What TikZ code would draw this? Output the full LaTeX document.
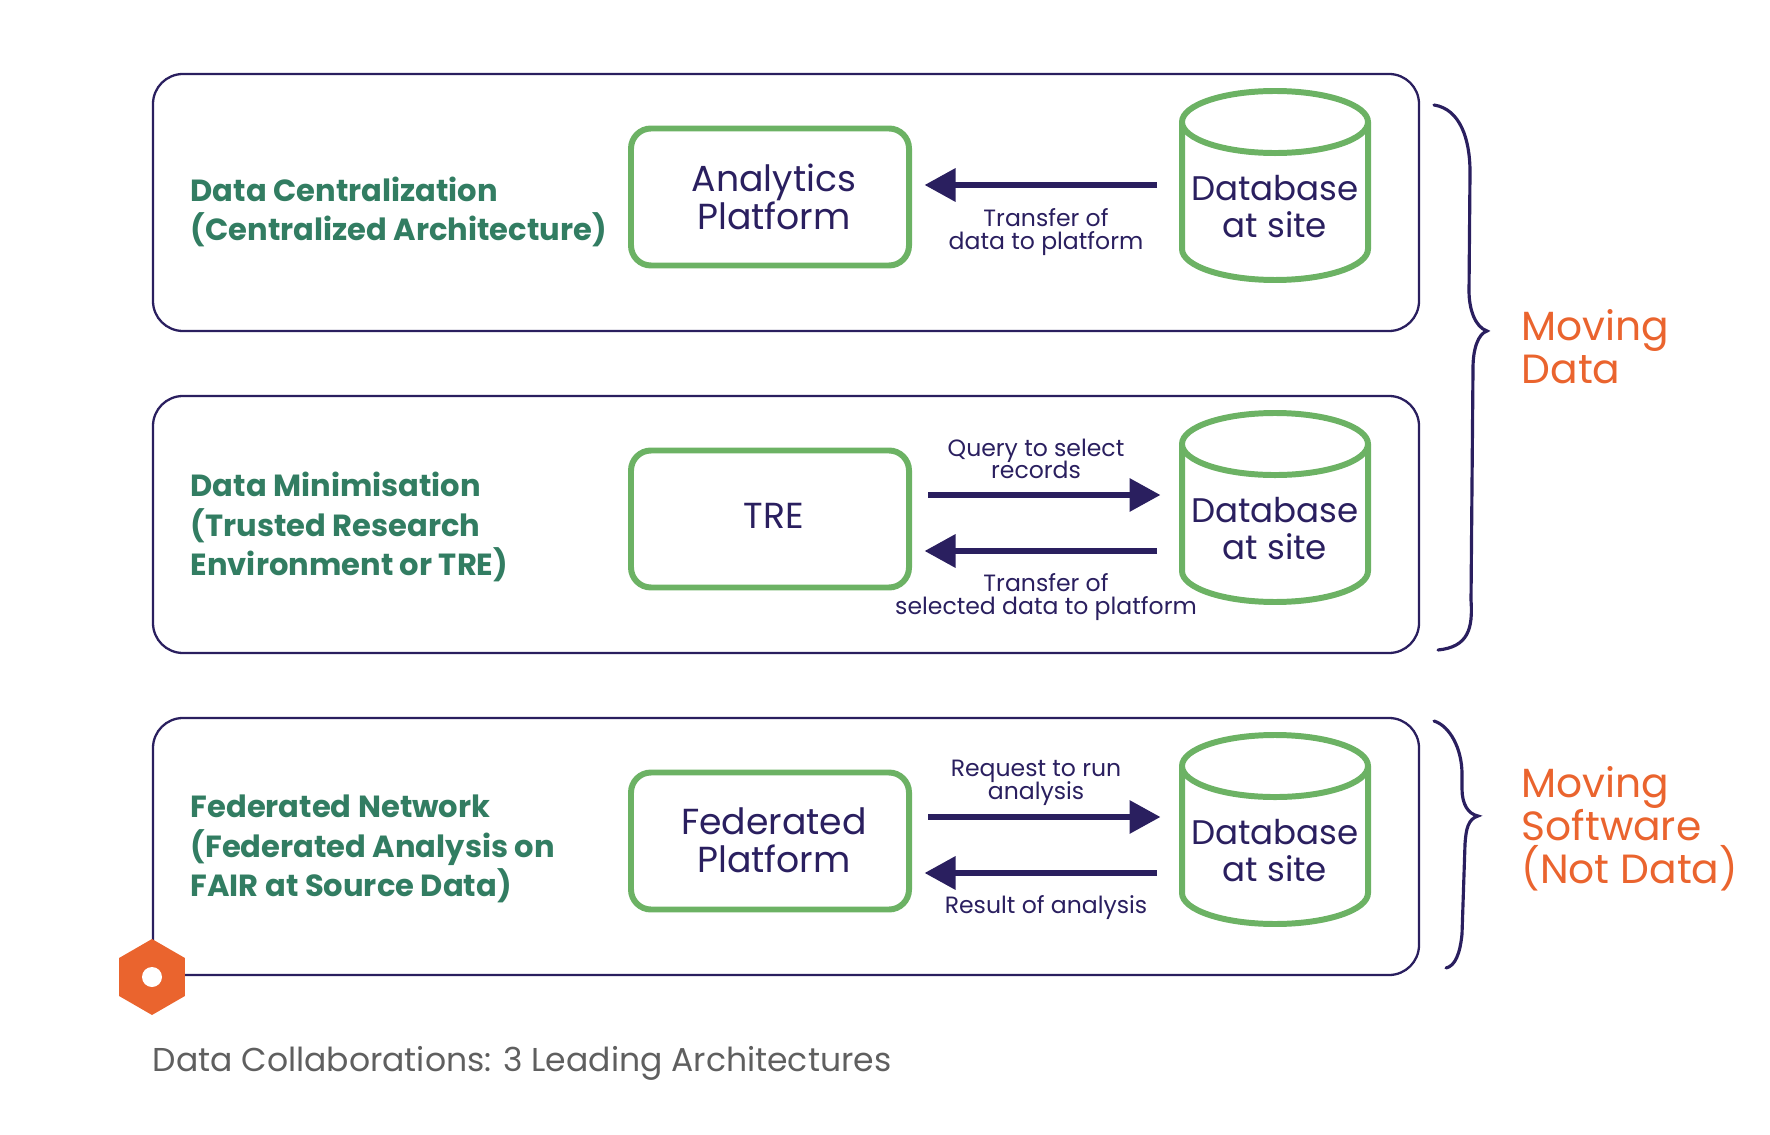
\documentclass[tikz,border=0pt]{standalone}
\usepackage{fontspec}
\setmainfont{Poppins}
\usepackage{tikz}
\usetikzlibrary{arrows.meta,shapes.geometric}

\definecolor{navy}{HTML}{2A1F5F}
\definecolor{leaf}{HTML}{6CB264}
\definecolor{pine}{HTML}{327D62}
\definecolor{rust}{HTML}{EA642E}
\definecolor{slate}{HTML}{5F5F5F}

\lineskiplimit=-10pt
% the cylinder shape sizes its ends from the box inside it
\newcommand{\storebox}{\phantom{Database}\\\phantom{at site}}

\tikzset{
  panel/.style={draw=navy, line width=0.65pt, rounded corners=0.3cm, minimum width=12.66cm, minimum height=2.57cm, inner sep=0},
  platform/.style={draw=leaf, line width=1.7pt, rounded corners=0.2cm, minimum width=2.78cm, minimum height=1.37cm, inner sep=0},
  platlabel/.style={align=center, text=navy, inner sep=0, font=\fontsize{10.3}{10.7}\selectfont},
  store/.style={cylinder, shape border rotate=90, shape aspect=0.37, draw=leaf, line width=1.7pt, minimum width=1.86cm, minimum height=1.89cm, inner sep=0, align=center, font=\fontsize{9.7}{10.7}\selectfont},
  storelabel/.style={align=center, text=navy, inner sep=0, font=\fontsize{9.7}{10.7}\selectfont},
  heading/.style={anchor=west, align=left, text=pine, inner sep=0, font=\fontsize{8.7}{11.2}\selectfont\bfseries},
  note/.style={align=center, text=navy, inner sep=0, font=\fontsize{6.7}{6.4}\selectfont},
  side/.style={anchor=west, align=left, text=rust, inner sep=0, font=\fontsize{11.6}{12.3}\selectfont},
  flow/.style={draw=navy, line width=1.8pt, -{Triangle[length=0.31cm,width=0.32cm]}},
  flowback/.style={flow, shorten <=0.22cm, shorten >=0.125cm},
  flowfore/.style={flow, shorten <=0.16cm, shorten >=0.185cm},
  brace/.style={draw=navy, line width=0.9pt, line cap=round}
}

\begin{document}
\begin{tikzpicture}
\useasboundingbox (0,0) rectangle (17.7,11.34);
\node[panel] (panelA) at (7.86,9.315) {};
\node[panel] (panelB) at (7.86,6.095) {};
\node[panel] (panelC) at (7.86,2.875) {};
\node[heading] (headA) at (1.9,9.22) {Data Centralization\\(Centralized Architecture)};
\node[heading] (headB) at (1.9,6.07) {Data Minimisation\\(Trusted Research\\Environment or TRE)};
\node[heading] (headC) at (1.9,2.85) {Federated Network\\(Federated Analysis on\\FAIR at Source Data)};
\node[platform] (platA) at (7.70,9.37) {};
\node[platform] (platB) at (7.70,6.15) {};
\node[platform] (platC) at (7.70,2.93) {};
\node[platlabel] (platAtext) at (7.74,9.37) {Analytics\\Platform};
\node[platlabel] (platBtext) at (7.74,6.18) {TRE};
\node[platlabel] (platCtext) at (7.74,2.94) {Federated\\Platform};
\node[store] (dbA) at (12.75,9.315) {\storebox};
\node[store] (dbB) at (12.75,6.095) {\storebox};
\node[store] (dbC) at (12.75,2.875) {\storebox};
\node[storelabel] (dbAtext) at (12.75,9.275) {Database\\at site};
\node[storelabel] (dbBtext) at (12.75,6.055) {Database\\at site};
\node[storelabel] (dbCtext) at (12.75,2.835) {Database\\at site};
% arrows between the boxes
\coordinate (rowA) at (0,9.49);
\coordinate (rowB) at (0,6.39);
\coordinate (rowC) at (0,5.83);
\coordinate (rowD) at (0,3.17);
\coordinate (rowE) at (0,2.61);
\draw[flowback] (dbA.west |- rowA) -- (platA.east |- rowA);
\draw[flowfore] (platB.east |- rowB) -- (dbB.west |- rowB);
\draw[flowback] (dbB.west |- rowC) -- (platB.east |- rowC);
\draw[flowfore] (platC.east |- rowD) -- (dbC.west |- rowD);
\draw[flowback] (dbC.west |- rowE) -- (platC.east |- rowE);
\node[note] (noteA) at (10.46,9.02) {Transfer of\\data to platform};
\node[note] (noteB) at (10.36,6.75) {Query to select\\records};
\node[note] (noteC) at (10.46,5.37) {Transfer of\\selected data to platform};
\node[note] (noteD) at (10.36,3.51) {Request to run\\analysis};
\node[note] (noteE) at (10.46,2.26) {Result of analysis};
% braces on the right
\draw[brace] (14.34,10.29) .. controls (14.60,10.25) and (14.70,9.95) .. (14.70,9.62) -- (14.69,8.43) .. controls (14.69,8.25) and (14.75,8.07) .. (14.87,8.03) .. controls (14.78,8.00) and (14.73,7.85) .. (14.73,7.66) -- (14.71,5.34) .. controls (14.73,5.05) and (14.68,4.87) .. (14.38,4.84);
\draw[brace] (14.34,4.13) .. controls (14.50,4.08) and (14.62,3.85) .. (14.62,3.60) -- (14.62,3.45) .. controls (14.62,3.30) and (14.68,3.20) .. (14.78,3.18) .. controls (14.68,3.15) and (14.66,3.05) .. (14.65,2.90) -- (14.62,2.00) .. controls (14.60,1.80) and (14.55,1.68) .. (14.46,1.66);
\node[side] (sideA) at (15.21,7.87) {Moving\\Data};
\node[side] (sideB) at (15.21,3.05) {Moving\\Software\\(Not Data)};
% hexagon on the corner and caption
\node[regular polygon, regular polygon sides=6, shape border rotate=30, fill=rust, minimum size=0.76cm, inner sep=0] (hexa) at (1.52,1.57) {};
\node[circle, fill=white, minimum size=0.2cm, inner sep=0] (dot) at (hexa.center) {};
\node[anchor=west, text=slate, inner sep=0, font=\fontsize{9.4}{10}\selectfont] (title) at (1.52,0.705) {Data Collaborations: 3 Leading Architectures};
\end{tikzpicture}
\end{document}
